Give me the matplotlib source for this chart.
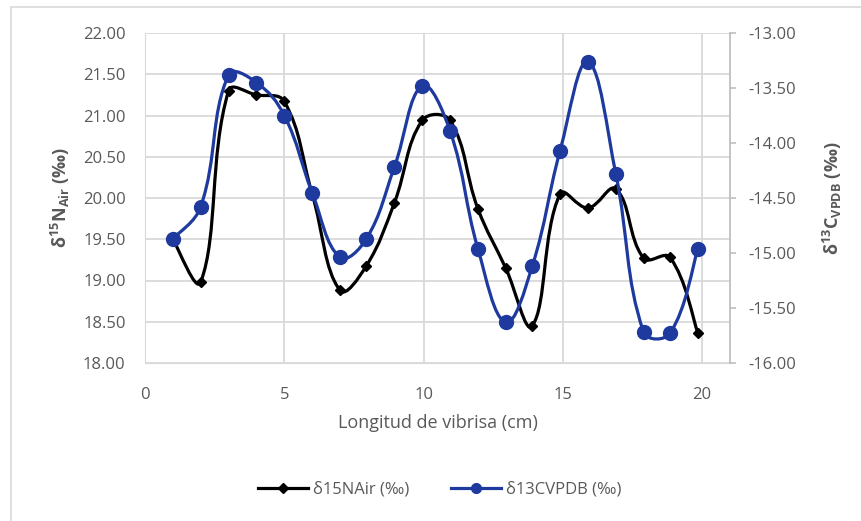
import matplotlib
matplotlib.use("Agg")
import matplotlib.pyplot as plt
from matplotlib.path import Path
from matplotlib.patches import PathPatch, Rectangle
import numpy as np

# whisker length (cm)
longitud = [1.0, 2.0, 3.0, 4.0, 5.0, 6.0, 7.0, 7.95, 8.95, 9.95,
            10.95, 11.95, 12.95, 13.9, 14.9, 15.9, 16.9, 17.9, 18.85, 19.85]
d15n_air = [19.50, 18.98, 21.30, 21.25, 21.17, 20.05, 18.88, 19.18, 19.94, 20.94,
            20.94, 19.87, 19.15, 18.45, 20.05, 19.88, 20.11, 19.27, 19.28, 18.36]
d13c_vpdb = [-14.87, -14.58, -13.38, -13.45, -13.75, -14.45, -15.04, -14.87, -14.22, -13.48,
             -13.89, -14.96, -15.63, -15.12, -14.07, -13.26, -14.28, -15.72, -15.73, -14.96]

GRAY_TXT = "#595959"
GRID = "#d9d9d9"
BLUE = "#1f3a9e"

plt.rcParams["font.family"] = ["Open Sans", "DejaVu Sans"]
plt.rcParams["mathtext.fontset"] = "custom"
plt.rcParams["mathtext.rm"] = "Open Sans"
plt.rcParams["mathtext.bf"] = "Open Sans:bold"
plt.rcParams["mathtext.it"] = "Open Sans:italic"


def smooth_path(axis, xs, ys, k=0.4):
    # smoothed line drawn as cubic Bezier segments; tangents worked out in
    # screen space and scaled by neighbouring segment lengths (less overshoot)
    pts = axis.transData.transform(np.column_stack([xs, ys]))
    n = len(pts)
    seg = np.linalg.norm(np.diff(pts, axis=0), axis=1)
    tang = np.zeros_like(pts)
    for i in range(n):
        a = pts[i - 1] if i > 0 else pts[i]
        b = pts[i + 1] if i < n - 1 else pts[i]
        tang[i] = b - a
    verts = [pts[0]]
    codes = [Path.MOVETO]
    for i in range(n - 1):
        l0 = seg[i - 1] if i > 0 else seg[i]
        l2 = seg[i + 1] if i + 1 < n - 1 else seg[i]
        c1 = pts[i] + tang[i] * k * seg[i] / (l0 + seg[i])
        c2 = pts[i + 1] - tang[i + 1] * k * seg[i] / (seg[i] + l2)
        verts += [c1, c2, pts[i + 1]]
        codes += [Path.CURVE4] * 3
    verts = axis.transData.inverted().transform(np.array(verts))
    return Path(verts, codes)


fig = plt.figure(figsize=(8.62, 5.21), dpi=100)
fig.patches.append(Rectangle((11 / 862, -0.1), 1.0, 1 - 7 / 521 + 0.1,
                             transform=fig.transFigure, fill=False,
                             edgecolor=GRID, linewidth=1.2))

ax = fig.add_axes([145 / 862, 1 - 363 / 521, (730 - 145) / 862, (363 - 33) / 521])
ax2 = ax.twinx()

ax.set_xlim(0, 21)
ax.set_ylim(18, 22)
ax2.set_ylim(-16, -13)
ax.set_xticks([0, 5, 10, 15, 20])
ax.set_yticks(np.arange(18, 22.01, 0.5))
ax2.set_yticks(np.arange(-16, -12.99, 0.5))
ax.yaxis.set_major_formatter(matplotlib.ticker.FormatStrFormatter("%.2f"))
ax2.yaxis.set_major_formatter(matplotlib.ticker.FormatStrFormatter("%.2f"))

ax.grid(True, color=GRID, linewidth=1.3)
ax.set_axisbelow(True)
ax.spines["top"].set_visible(False)
ax2.spines["top"].set_visible(False)
ax.spines["left"].set_color(GRID)
ax.spines["bottom"].set_color(GRID)
ax.spines["right"].set_visible(False)
ax2.spines["left"].set_visible(False)
ax2.spines["bottom"].set_visible(False)
ax2.spines["right"].set_color("#bfbfbf")
ax2.spines["right"].set_linewidth(1.3)

ax.tick_params(axis="both", length=0, labelsize=12, labelcolor=GRAY_TXT)
ax.tick_params(axis="x", pad=17)
ax.tick_params(axis="y", pad=14)
ax2.tick_params(axis="y", length=4, width=1.2, color="#bfbfbf",
                labelsize=12, labelcolor=GRAY_TXT, pad=9)

# black series (left axis)
ax.add_patch(PathPatch(smooth_path(ax, longitud, d15n_air), fill=False,
                       edgecolor="black", linewidth=2.3, zorder=3))
ax.plot(longitud, d15n_air, linestyle="none", marker="D", markersize=5.5,
        color="black", zorder=4)

# blue series (right axis)
ax2.add_patch(PathPatch(smooth_path(ax2, longitud, d13c_vpdb), fill=False,
                        edgecolor=BLUE, linewidth=2.3, zorder=3))
ax2.plot(longitud, d13c_vpdb, linestyle="none", marker="o", markersize=10,
         color=BLUE, zorder=4)

ax.set_xlabel("Longitud de vibrisa (cm)", fontsize=13, color=GRAY_TXT, labelpad=8)
ax.set_ylabel(r"$\mathbf{\delta^{15}N_{Air}}$ $\mathbf{(‰)}$", fontsize=13,
              color=GRAY_TXT, labelpad=8)
ax2.set_ylabel(r"$\mathbf{\delta^{13}C_{VPDB}}$ $\mathbf{(‰)}$", fontsize=13,
               color=GRAY_TXT, labelpad=18)

h1, = ax.plot([], [], color="black", linewidth=2.3, marker="D", markersize=5)
h2, = ax.plot([], [], color=BLUE, linewidth=2.3, marker="o", markersize=7)
fig.legend([h1, h2], ["δ15NAir (‰)", "δ13CVPDB (‰)"], loc="center",
           bbox_to_anchor=(440 / 862, 1 - 490 / 521), ncol=2, frameon=False,
           fontsize=12, labelcolor=GRAY_TXT, handlelength=3, columnspacing=2.5,
           handletextpad=0.3)

fig.savefig("out.png", dpi=100)
